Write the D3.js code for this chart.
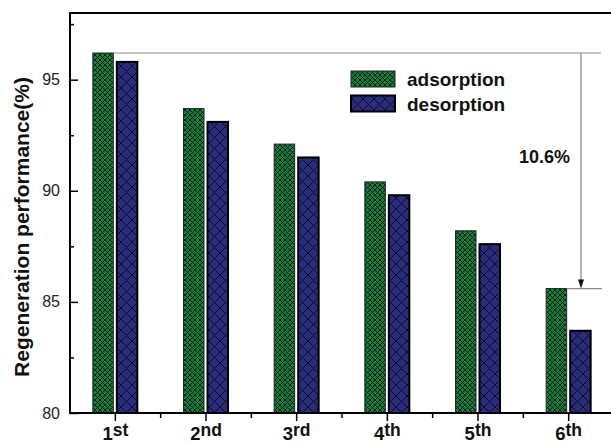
<!DOCTYPE html>
<html>
<head>
<meta charset="utf-8">
<script src="https://cdn.jsdelivr.net/npm/d3@7"></script>
<style>
  html, body { margin: 0; padding: 0; background: #fff; }
  svg { display: block; font-family: Arial, "Liberation Sans", sans-serif; }
</style>
</head>
<body>
<svg id="chart" width="611" height="443"></svg>
<script>
// Regeneration cycles and measured performance (%)
const cycles = ["1st", "2nd", "3rd", "4th", "5th", "6th"];
const cycleNumbers = ["1", "2", "3", "4", "5", "6"];
const cycleSuffixes = ["st", "nd", "rd", "th", "th", "th"];
const adsorption = [96.2, 93.7, 92.1, 90.4, 88.2, 85.6];
const desorption = [95.8, 93.1, 91.5, 89.8, 87.6, 83.7];
const seriesNames = ["adsorption", "desorption"];
const yMajorTicks = [80, 85, 90, 95];
const yMinorTicks = [82.5, 87.5, 92.5, 97.5];
const yTitle = "Regeneration performance(%)";

const svg = d3.select("#chart");
const W = 611, H = 443;
const plotLeft = 70, plotRight = 614, plotTop = 13, plotBottom = 413;

const x = d3.scaleBand().domain(cycles).range([plotLeft, plotRight]).padding(0);
const y = d3.scaleLinear().domain([80, 98]).range([plotBottom, plotTop]);

// Hatch patterns for the two series
const defs = svg.append("defs");
const pg = defs.append("pattern").attr("id", "hatchGreen")
  .attr("patternUnits", "userSpaceOnUse").attr("width", 5).attr("height", 5);
pg.append("rect").attr("width", 5).attr("height", 5).attr("fill", "#1b7c3d");
pg.append("path").attr("d", "M0,0 L5,5 M5,0 L0,5")
  .attr("stroke", "#0a1a0e").attr("stroke-width", 0.9);

const pb = defs.append("pattern").attr("id", "hatchBlue")
  .attr("patternUnits", "userSpaceOnUse").attr("width", 11).attr("height", 11);
pb.append("rect").attr("width", 11).attr("height", 11).attr("fill", "#2c2c7e");
pb.append("path").attr("d", "M0,0 L11,11 M11,0 L0,11")
  .attr("stroke", "#0b0b22").attr("stroke-width", 1);

const bw = 20.5;
const centre = c => x(c) + x.bandwidth() / 2;

// Adsorption bars
svg.append("g").selectAll("rect").data(adsorption).join("rect")
  .attr("x", (d, i) => centre(cycles[i]) - 2 - bw)
  .attr("width", bw)
  .attr("y", d => y(d))
  .attr("height", d => y(80) - y(d))
  .attr("fill", "url(#hatchGreen)")
  .attr("stroke", "#1c2a1f").attr("stroke-width", 1);

// Desorption bars
svg.append("g").selectAll("rect").data(desorption).join("rect")
  .attr("x", (d, i) => centre(cycles[i]) + 1.5)
  .attr("width", bw)
  .attr("y", d => y(d))
  .attr("height", d => y(80) - y(d))
  .attr("fill", "url(#hatchBlue)")
  .attr("stroke", "#000").attr("stroke-width", 2);

// Drop annotation between first and last adsorption values
const first = adsorption[0], last = adsorption[adsorption.length - 1];
const arrowX = 581;
svg.append("line")
  .attr("x1", centre(cycles[0]) - 2).attr("x2", 601)
  .attr("y1", y(first)).attr("y2", y(first))
  .attr("stroke", "#8c8c8c").attr("stroke-width", 1.2);
svg.append("line")
  .attr("x1", centre(cycles[5]) - 2).attr("x2", 602)
  .attr("y1", y(last)).attr("y2", y(last))
  .attr("stroke", "#8c8c8c").attr("stroke-width", 1.2);
svg.append("line")
  .attr("x1", arrowX).attr("x2", arrowX)
  .attr("y1", y(first)).attr("y2", y(last) - 6)
  .attr("stroke", "#9a9a9a").attr("stroke-width", 1.5);
svg.append("path")
  .attr("d", `M${arrowX - 3},${y(last) - 9} L${arrowX + 3},${y(last) - 9} L${arrowX},${y(last)} Z`)
  .attr("fill", "#111");
svg.append("text")
  .attr("x", 519).attr("y", 163)
  .attr("font-size", 18).attr("font-weight", "bold").attr("fill", "#111")
  .text((first - last).toFixed(1) + "%");

// Frame: top border
svg.append("line").attr("x1", plotLeft).attr("x2", W).attr("y1", plotTop).attr("y2", plotTop)
  .attr("stroke", "#000").attr("stroke-width", 2);

// Y axis
const yAxis = svg.append("g").attr("transform", `translate(${plotLeft},0)`);
yAxis.call(d3.axisRight(y).tickValues(yMajorTicks).tickSize(8).tickFormat(""))
  .call(g => g.select(".domain").remove())
  .call(g => g.selectAll("line").attr("stroke-width", 1.5));
yAxis.append("g").call(d3.axisRight(y).tickValues(yMinorTicks).tickSize(4).tickFormat(""))
  .call(g => g.select(".domain").remove())
  .call(g => g.selectAll("line").attr("stroke-width", 1.5));
yAxis.selectAll(".ylab").data(yMajorTicks).join("text").attr("class", "ylab")
  .attr("x", -10).attr("y", d => y(d) + 5.5)
  .attr("text-anchor", "end").attr("font-size", 16).attr("fill", "#222")
  .text(d => d);
svg.append("line").attr("x1", plotLeft).attr("x2", plotLeft).attr("y1", plotTop - 1).attr("y2", plotBottom + 1)
  .attr("stroke", "#000").attr("stroke-width", 2);

// X axis
const xAxis = svg.append("g").attr("transform", `translate(0,${plotBottom})`);
xAxis.call(d3.axisBottom(x).tickSize(8).tickFormat(""))
  .call(g => g.select(".domain").remove())
  .call(g => g.selectAll("line").attr("stroke-width", 1.5));
const boundaries = cycles.slice(1).map(c => x(c));
xAxis.selectAll(".minor").data(boundaries).join("line").attr("class", "minor")
  .attr("x1", d => d).attr("x2", d => d).attr("y1", 0).attr("y2", 5)
  .attr("stroke", "#000").attr("stroke-width", 1.5);
svg.append("line").attr("x1", plotLeft - 1).attr("x2", W).attr("y1", plotBottom).attr("y2", plotBottom)
  .attr("stroke", "#000").attr("stroke-width", 2);

const xl = svg.append("g").selectAll("text").data(cycles).join("text")
  .attr("x", d => centre(d)).attr("y", 440)
  .attr("text-anchor", "middle").attr("font-size", 18.5).attr("font-weight", "bold").attr("fill", "#111");
xl.append("tspan").text((d, i) => cycleNumbers[i]);
xl.append("tspan").attr("dy", -4).attr("font-size", 17.5).text((d, i) => cycleSuffixes[i]);

// Y title
svg.append("text")
  .attr("transform", `translate(29,227) rotate(-90)`)
  .attr("text-anchor", "middle").attr("font-size", 21).attr("font-weight", "bold").attr("fill", "#111")
  .text(yTitle);

// Legend
const legend = svg.append("g");
const fills = ["url(#hatchGreen)", "url(#hatchBlue)"];
seriesNames.forEach((name, i) => {
  legend.append("rect")
    .attr("x", 351).attr("y", 71 + i * 24.5).attr("width", 44).attr("height", 16)
    .attr("fill", fills[i])
    .attr("stroke", i === 0 ? "#1c2a1f" : "#000").attr("stroke-width", i === 0 ? 1 : 2);
  legend.append("text")
    .attr("x", 407).attr("y", 86 + i * 24.5)
    .attr("font-size", 19).attr("font-weight", "bold").attr("fill", "#111")
    .text(name);
});
</script>
</body>
</html>
